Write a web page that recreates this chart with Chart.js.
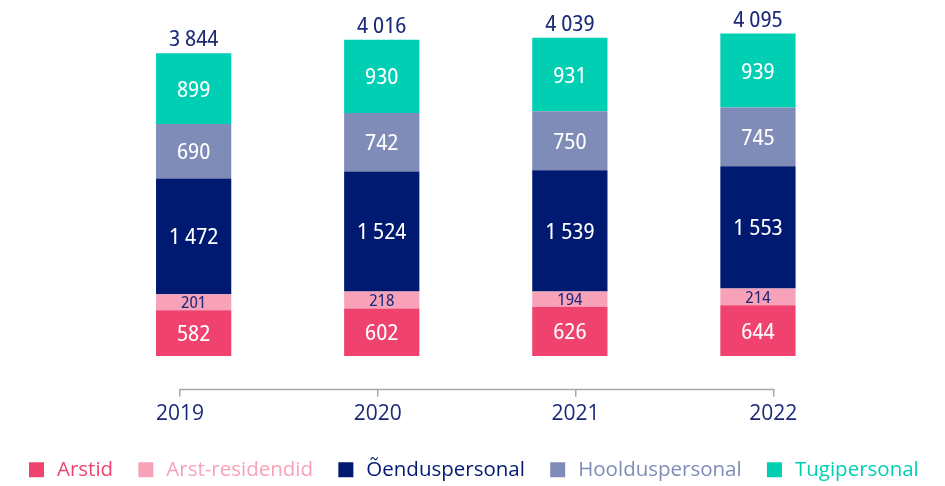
<!DOCTYPE html>
<html>
<head>
<meta charset="utf-8">
<script src="https://cdn.jsdelivr.net/npm/chart.js@4.4.1/dist/chart.umd.min.js"></script>
<style>
  html, body { margin: 0; padding: 0; background: #ffffff; }
  #wrap { position: relative; width: 945px; height: 486px; }
</style>
</head>
<body>
<div id="wrap"><canvas id="c" width="945" height="486"></canvas></div>
<script>
// ---- data ----
const years = ['2019', '2020', '2021', '2022'];
const arstid = [582, 602, 626, 644];
const arstResidendid = [201, 218, 194, 214];
const oenduspersonal = [1472, 1524, 1539, 1553];
const hoolduspersonal = [690, 742, 750, 745];
const tugipersonal = [899, 930, 931, 939];
const totals = [3844, 4016, 4039, 4095];
const seriesNames = ['Arstid', 'Arst-residendid', 'Õenduspersonal', 'Hoolduspersonal', 'Tugipersonal'];

// ---- styles ----
const COLORS = ['#EF426F', '#F8A2B9', '#001A72', '#7F8CB8', '#00CFB4'];
const NAVY_TEXT = '#1B2A78';
const AXIS_GREY = '#A8A8A8';
const FONT = '"Open Sans", "Noto Sans", sans-serif';
const NUM_FONT = '"Noto Sans Display", "Open Sans", sans-serif';
const CAP = 0.714;

function fmt(n) {
  return String(n).replace(/\B(?=(\d{3})+(?!\d))/g, ' ');
}

const valueLabels = {
  id: 'valueLabels',
  afterDatasetsDraw(chart) {
    const ctx = chart.ctx;
    ctx.save();
    ctx.textAlign = 'center';
    ctx.textBaseline = 'alphabetic';
    chart.data.datasets.forEach((ds, di) => {
      const meta = chart.getDatasetMeta(di);
      if (meta.hidden) return;
      const small = di === 1;
      const size = small ? 17 : 22.5;
      meta.data.forEach((bar, i) => {
        ctx.font = 'condensed ' + size + 'px ' + NUM_FONT;
        ctx.fillStyle = small ? NAVY_TEXT : '#ffffff';
        const cy = (bar.y + bar.base) / 2;
        ctx.fillText(fmt(ds.data[i]), bar.x, cy + size * CAP / 2);
      });
    });
    const topMeta = chart.getDatasetMeta(chart.data.datasets.length - 1);
    topMeta.data.forEach((bar, i) => {
      ctx.font = 'condensed 22.5px ' + NUM_FONT;
      ctx.fillStyle = NAVY_TEXT;
      ctx.fillText(fmt(totals[i]), bar.x, bar.y - 7);
    });
    ctx.restore();
  }
};

const axisLine = {
  id: 'axisLine',
  afterDraw(chart) {
    const s = chart.scales.xAxis;
    const ctx = chart.ctx;
    ctx.save();
    ctx.strokeStyle = AXIS_GREY;
    ctx.lineWidth = 1.5;
    ctx.beginPath();
    const y = s.top + 0.75;
    ctx.moveTo(s.getPixelForValue(0) - 0.75, y);
    ctx.lineTo(s.getPixelForValue(years.length - 1) + 0.75, y);
    ctx.stroke();
    ctx.restore();
  }
};

const datasets = [arstid, arstResidendid, oenduspersonal, hoolduspersonal, tugipersonal].map((d, i) => ({
  label: seriesNames[i],
  data: d,
  backgroundColor: COLORS[i],
  borderWidth: 0,
  barPercentage: 0.4,
  categoryPercentage: 1.0,
  xAxisID: 'x',
  yAxisID: 'y'
}));

new Chart(document.getElementById('c'), {
  type: 'bar',
  data: { labels: years, datasets },
  options: {
    responsive: false,
    animation: false,
    devicePixelRatio: 1,
    layout: { padding: { top: 9.5, bottom: -4, left: 0, right: 0 } },
    plugins: {
      tooltip: { enabled: false },
      legend: {
        position: 'bottom',
        labels: {
          usePointStyle: true,
          pointStyle: 'rect',
          boxWidth: 21,
          boxHeight: 15,
          padding: 22.5,
          font: { size: 20.5, family: FONT },
          generateLabels(chart) {
            const items = Chart.defaults.plugins.legend.labels.generateLabels(chart);
            items.forEach((it, i) => {
              it.fontColor = COLORS[i];
              it.pointStyle = 'rect';
              it.lineWidth = 0;
              it.strokeStyle = 'rgba(0,0,0,0)';
            });
            return items;
          }
        }
      }
    },
    scales: {
      x: {
        type: 'category',
        stacked: true,
        display: false
      },
      xAxis: {
        type: 'linear',
        position: 'bottom',
        offset: false,
        min: -0.4065,
        max: 3.398,
        afterBuildTicks(scale) {
          scale.ticks = years.map((_, i) => ({ value: i }));
        },
        afterFit(scale) { scale.height = 48.3; },
        border: { display: false },
        grid: {
          display: true,
          offset: false,
          drawOnChartArea: false,
          drawTicks: true,
          tickLength: 8,
          color: AXIS_GREY,
          lineWidth: 1.5
        },
        ticks: {
          padding: 5,
          color: NAVY_TEXT,
          font: { size: 21, family: FONT },
          callback(v) { return years[v]; }
        }
      },
      y: {
        type: 'linear',
        stacked: true,
        position: 'left',
        min: -415,
        max: 4400,
        display: true,
        afterFit(scale) { scale.width = 99.6; },
        border: { display: false },
        grid: { display: false },
        ticks: { display: false }
      },
      yRight: {
        type: 'linear',
        position: 'right',
        min: 0,
        max: 1,
        display: true,
        afterFit(scale) { scale.width = 93; },
        border: { display: false },
        grid: { display: false },
        ticks: { display: false }
      }
    }
  },
  plugins: [valueLabels, axisLine]
});
</script>
</body>
</html>
